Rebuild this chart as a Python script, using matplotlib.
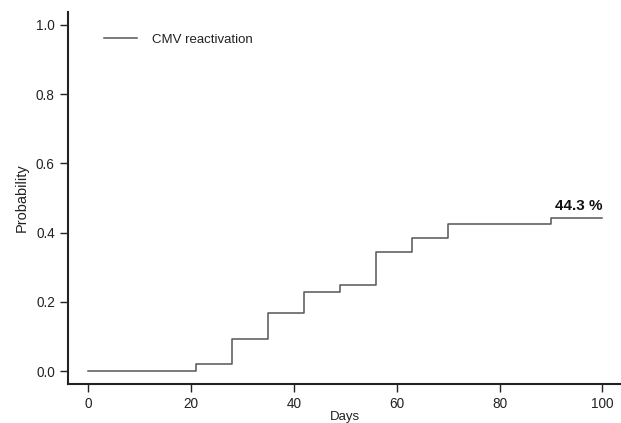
import matplotlib
matplotlib.use("Agg")
import matplotlib.pyplot as plt

plt.rcParams['font.family'] = ['Liberation Sans', 'DejaVu Sans']

days = [0, 21, 28, 35, 42, 49, 56, 63, 70, 90, 100]
prob = [0.0, 0.020, 0.094, 0.168, 0.229, 0.248, 0.344, 0.385, 0.425, 0.443, 0.443]
xticks = [0, 20, 40, 60, 80, 100]
yticks = [0.0, 0.2, 0.4, 0.6, 0.8, 1.0]
final_label = "44.3 %"
series_name = "CMV reactivation"

fig = plt.figure(figsize=(6.21, 4.23), dpi=100)
ax = fig.add_axes([68/621, 1-384/423, 1-68/621, 372/423])
ax.step(days, prob, where='post', color='#555555', lw=1.1, label=series_name)
ax.set_xlim(-3.9, 103.6)
ax.set_ylim(-0.037, 1.037)
ax.set_xticks(xticks)
ax.set_yticks(yticks)
ax.set_yticklabels([f"{v:.1f}" for v in yticks])
for s in ['top', 'right']:
    ax.spines[s].set_visible(False)
for s in ['left', 'bottom']:
    ax.spines[s].set_linewidth(1.5)
    ax.spines[s].set_color('#222222')
ax.tick_params(direction='out', length=6, width=1, colors='#222222', labelsize=9.8, labelcolor='#222222')
ax.set_xlabel("Days", fontsize=9.5, color='#222222', labelpad=0)
ax.set_ylabel("Probability", fontsize=10.5, color='#222222', labelpad=5)
ax.text(days[-1], prob[-1] + 0.015, final_label, ha='right', va='bottom', fontsize=11, fontweight='bold', color='#111111')
leg = ax.legend(loc='upper left', bbox_to_anchor=(0.043, 0.974), frameon=False, handlelength=2.5, handletextpad=1.14, fontsize=9.5)
for t in leg.get_texts():
    t.set_color('#222222')
fig.savefig("out.png", dpi=100)
